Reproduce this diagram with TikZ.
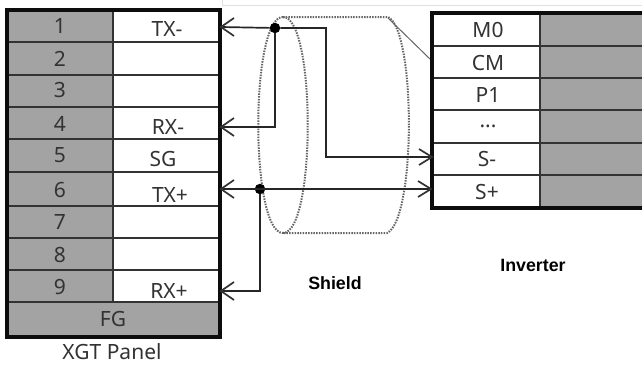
\documentclass[tikz,border=0pt]{standalone}
\usepackage{fontspec}
\setmainfont{Noto Sans}
\newfontfamily\arialf{Liberation Sans}
\begin{document}
\begin{tikzpicture}[x=1pt,y=-1pt,
  txt/.style={font=\fontsize{21}{21}\selectfont,text=black!80,inner sep=0pt,anchor=center},
  bold/.style={font=\arialf\bfseries\fontsize{17.8}{18}\selectfont,inner sep=0pt},
  wire/.style={draw=black!85,line width=1.7pt},
  tip/.style={draw=black!80,line width=1.7pt},
  shield/.style={draw=black!60,line width=2pt,dash pattern=on 1.5pt off 1.2pt},
  gridl/.style={draw=black!80,line width=1.4pt},
  frame/.style={draw=black!95,line width=3.4pt},
  dotn/.style={circle,fill=black,inner sep=0pt,minimum size=10.5pt}]
\useasboundingbox (0,0) rectangle (642,365);
\fill[white] (0,0) rectangle (642,365);
\draw[black!12,line width=1.2pt] (222,5.5) -- (642,5.5);
\draw[black!12,line width=1.2pt] (222.5,0) -- (222.5,5);
% left panel
\definecolor{pg}{gray}{0.64}
\fill[pg] (7,10) rectangle (113,338);
\fill[white] (113,10) rectangle (220,302);
\fill[pg] (7,302) rectangle (220,338);
\foreach \y in {42,75,107,139,172,206,238,270,302}{
  \draw[gridl] (7,\y) -- (220,\y);}
\draw[gridl] (113,10) -- (113,302);
\draw[frame] (7,10) rectangle (220,337);
\coordinate (L1) at (221,27);
\coordinate (L4) at (221,127);
\coordinate (L6) at (221,189);
\coordinate (L9) at (221,291);
\foreach \t/\y/\n in {1/26/a1,2/59/a2,3/90/a3,4/124/a4,5/155/a5,6/190/a6,7/222/a7,8/255/a8,9/287/a9}{
  \node[txt] (\n) at (60,\y) {\t};}
\node[txt] (tm) at (167,29) {TX-};
\node[txt] (rm) at (168,127) {RX-};
\node[txt] (sg) at (163,159) {SG};
\node[txt] (tp) at (170,195) {TX+};
\node[txt] (rp) at (169,291) {RX+};
\node[txt] (fg) at (113,319) {FG};
\node[txt] (xgt) at (112,351.5) {XGT Panel};
% shield
\draw[shield] (283,17) .. controls (250,17) and (250,233) .. (283,233);
\draw[shield] (283,17) .. controls (316,17) and (316,233) .. (283,233);
\draw[shield] (283,17) -- (388,17) .. controls (416,30) and (416,220) .. (387,233) -- (283,233);
\draw[black!60,line width=1pt] (388,18) -- (431,60);
% inverter
\fill[pg] (540,13) rectangle (642,207);
\fill[white] (432,13) rectangle (540,207);
\foreach \y in {46,78,110,143,175}{
  \draw[gridl] (432,\y) -- (642,\y);}
\draw[gridl] (540,13) -- (540,207);
\draw[frame] (642,13) -- (432,13) -- (432,208) -- (642,208);
\coordinate (R5) at (432,157);
\coordinate (R6) at (431,189);
\node[txt] (m0) at (488,30) {M0};
\node[txt] (cm) at (488,63) {CM};
\node[txt] (p1) at (488,95) {P1};
\node[txt] (dd) at (488,126) {...};
\node[txt] (sm) at (487,159) {S-};
\node[txt] (sp) at (487,192) {S+};
\node[bold] (shl) at (335,283) {Shield};
\node[bold] (inv) at (533,265) {Inverter};
% wires
\node[dotn] (j1) at (275,28) {};
\node[dotn] (j2) at (260,189) {};
\coordinate (c1) at (326,28);
\coordinate (c2) at (326,157);
\coordinate (c3) at (275,127);
\coordinate (c4) at (260,291);
\draw[wire] (L1) -- (j1) -- (c1) -- (c2) -- (R5);
\draw[wire] (j1) -- (c3) -- (L4);
\draw[wire] (L6) -- (R6);
\draw[wire] (j2) -- (c4) -- (L9);
\foreach \c in {L1,L4,L6,L9}{
  \draw[tip] ([shift={(13,-9)}]\c) -- (\c) -- ([shift={(13,9)}]\c);}
\foreach \c in {R5,R6}{
  \draw[tip] ([shift={(-13,-8)}]\c) -- (\c) -- ([shift={(-13,8)}]\c);}
\end{tikzpicture}
\end{document}
